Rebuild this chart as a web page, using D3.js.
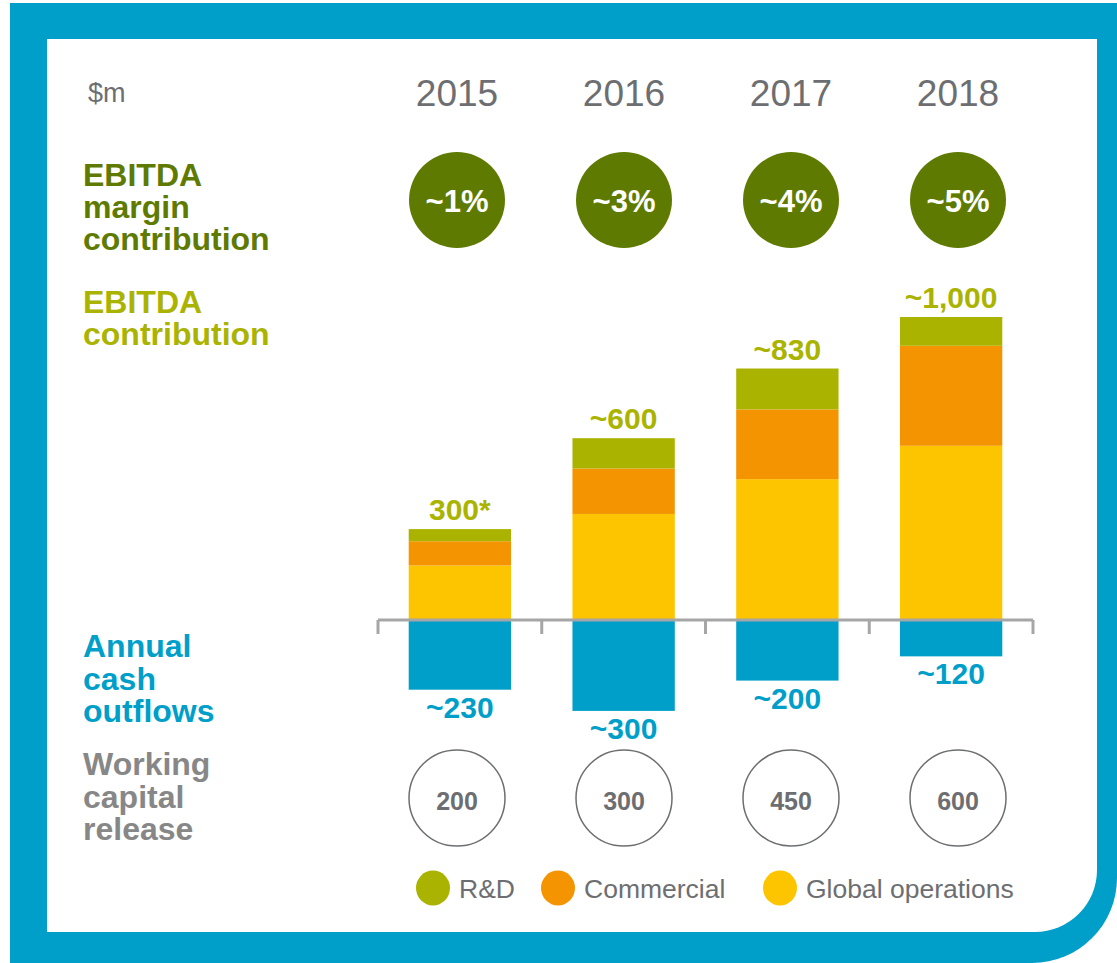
<!DOCTYPE html>
<html>
<head>
<meta charset="utf-8">
<script src="https://cdn.jsdelivr.net/npm/d3@7"></script>
<style>
  body { margin: 0; background: #fff; }
  svg text { font-family: "Liberation Sans", Arial, sans-serif; }
</style>
</head>
<body>
<div id="chart"></div>
<script>
var width = 1117, height = 963;

// data
var years = ["2015", "2016", "2017", "2018"];
var globalOps = [180, 350, 465, 575];
var commercial = [80, 150, 230, 330];
var rnd = [40, 100, 135, 95];
var ebitdaLabels = ["300*", "~600", "~830", "~1,000"];
var margins = ["~1%", "~3%", "~4%", "~5%"];
var cashOutflows = [230, 300, 200, 120];
var workingCapital = [200, 300, 450, 600];
var seriesNames = ["R&D", "Commercial", "Global operations"];

var colors = {
  frame: "#009fc9",
  darkGreen: "#5e7a00",
  lime: "#aab400",
  orange: "#f39400",
  yellow: "#fdc500",
  grey: "#6d6e71",
  lightGrey: "#878787"
};
var seriesColors = [colors.lime, colors.orange, colors.yellow];

var svg = d3.select("#chart").append("svg")
    .attr("width", width)
    .attr("height", height);

// frame: blue band with rounded bottom-right corner, white panel inside
function roundedBR(x0, y0, x1, y1, r) {
  return "M" + x0 + "," + y0 + "H" + x1 + "V" + (y1 - r) +
    "A" + r + "," + r + " 0 0 1 " + (x1 - r) + "," + y1 + "H" + x0 + "Z";
}
svg.append("path")
    .attr("d", roundedBR(10, 3, 1117, 963, 85))
    .attr("fill", colors.frame);
svg.append("path")
    .attr("d", roundedBR(47, 39, 1097, 932, 62))
    .attr("fill", "#fff");

// scales
var x = d3.scaleBand()
    .domain(years)
    .range([378, 1033])
    .paddingInner(0.375)
    .paddingOuter(0.1875);

var xc = d3.scalePoint()
    .domain(years)
    .range([457, 958]);

var y = d3.scaleLinear()
    .domain([0, 1000])
    .range([620, 317]);

var g = svg.append("g");

// unit + year headers
g.append("text")
    .attr("x", 88).attr("y", 102)
    .attr("fill", colors.grey)
    .style("font-size", "27px")
    .text("$m");

g.selectAll(".year")
    .data(years)
  .enter().append("text")
    .attr("class", "year")
    .attr("x", function(d) { return xc(d); })
    .attr("y", 106)
    .attr("text-anchor", "middle")
    .attr("fill", colors.grey)
    .style("font-size", "37px")
    .text(function(d) { return d; });

// row labels
function rowLabel(lines, y0, color, lh) {
  var t = g.append("text")
      .attr("x", 83).attr("y", y0)
      .attr("fill", color)
      .style("font-size", "32px")
      .style("font-weight", "bold");
  lines.forEach(function(l, i) {
    t.append("tspan").attr("x", 83).attr("y", y0 + i * lh).text(l);
  });
}
rowLabel(["EBITDA", "margin", "contribution"], 186, colors.darkGreen, 32);
rowLabel(["EBITDA", "contribution"], 313, colors.lime, 32);
rowLabel(["Annual", "cash", "outflows"], 657, colors.frame, 32.5);
rowLabel(["Working", "capital", "release"], 775, colors.lightGrey, 32.5);

// margin circles
var mg = g.selectAll(".margin")
    .data(years)
  .enter().append("g")
    .attr("class", "margin")
    .attr("transform", function(d) { return "translate(" + xc(d) + ",200)"; });
mg.append("circle").attr("r", 48).attr("fill", colors.darkGreen);
mg.append("text")
    .attr("y", 12)
    .attr("text-anchor", "middle")
    .attr("fill", "#fff")
    .style("font-size", "31px")
    .style("font-weight", "bold")
    .text(function(d, i) { return margins[i]; });

// stacked EBITDA bars
var table = years.map(function(yr, i) {
  return { year: yr, "Global operations": globalOps[i], "Commercial": commercial[i], "R&D": rnd[i] };
});
var stack = d3.stack().keys(["Global operations", "Commercial", "R&D"]);
var layers = stack(table);

g.selectAll(".layer")
    .data(layers)
  .enter().append("g")
    .attr("class", "layer")
    .attr("fill", function(d) { return seriesColors[seriesNames.indexOf(d.key)]; })
  .selectAll("rect")
    .data(function(d) { return d; })
  .enter().append("rect")
    .attr("x", function(d) { return x(d.data.year); })
    .attr("width", x.bandwidth())
    .attr("y", function(d) { return y(d[1]); })
    .attr("height", function(d) { return y(d[0]) - y(d[1]); });

var totals = years.map(function(yr, i) { return globalOps[i] + commercial[i] + rnd[i]; });
g.selectAll(".total")
    .data(years)
  .enter().append("text")
    .attr("class", "total")
    .attr("x", function(d) { return x(d) + x.bandwidth() / 2; })
    .attr("y", function(d, i) { return y(totals[i]) - 9; })
    .attr("text-anchor", "middle")
    .attr("fill", colors.lime)
    .style("font-size", "30px")
    .style("font-weight", "bold")
    .text(function(d, i) { return ebitdaLabels[i]; });

// cash outflow bars (below the axis)
g.selectAll(".cash")
    .data(years)
  .enter().append("rect")
    .attr("class", "cash")
    .attr("x", function(d) { return x(d); })
    .attr("width", x.bandwidth())
    .attr("y", y(0))
    .attr("height", function(d, i) { return y(0) - y(cashOutflows[i]); })
    .attr("fill", colors.frame);

g.selectAll(".cash-label")
    .data(years)
  .enter().append("text")
    .attr("class", "cash-label")
    .attr("x", function(d) { return x(d) + x.bandwidth() / 2; })
    .attr("y", function(d, i) { return 2 * y(0) - y(cashOutflows[i]) + 28; })
    .attr("text-anchor", "middle")
    .attr("fill", colors.frame)
    .style("font-size", "30px")
    .style("font-weight", "bold")
    .text(function(d, i) { return "~" + cashOutflows[i]; });

// axis line with ticks at band boundaries
var x0 = x.range()[0], step = x.step();
g.append("line")
    .attr("x1", x0).attr("x2", x.range()[1])
    .attr("y1", y(0)).attr("y2", y(0))
    .attr("stroke", "#a6a6a6").attr("stroke-width", 3);
g.selectAll(".tick")
    .data(d3.range(years.length + 1))
  .enter().append("line")
    .attr("class", "tick")
    .attr("x1", function(i) { return x0 + i * step; })
    .attr("x2", function(i) { return x0 + i * step; })
    .attr("y1", y(0)).attr("y2", y(0) + 14)
    .attr("stroke", "#a6a6a6").attr("stroke-width", 3);

// working capital circles
var wc = g.selectAll(".wc")
    .data(years)
  .enter().append("g")
    .attr("class", "wc")
    .attr("transform", function(d) { return "translate(" + xc(d) + ",798)"; });
wc.append("circle")
    .attr("r", 48)
    .attr("fill", "#fff")
    .attr("stroke", "#6d6e71")
    .attr("stroke-width", 1.5);
wc.append("text")
    .attr("y", 12)
    .attr("text-anchor", "middle")
    .attr("fill", colors.grey)
    .style("font-size", "25px")
    .style("font-weight", "bold")
    .text(function(d, i) { return workingCapital[i]; });

// legend
var legendX = [433, 558, 780];
var lg = g.selectAll(".legend")
    .data(seriesNames)
  .enter().append("g")
    .attr("class", "legend")
    .attr("transform", function(d, i) { return "translate(" + legendX[i] + ",888)"; });
lg.append("ellipse")
    .attr("rx", 17).attr("ry", 17.5)
    .attr("fill", function(d, i) { return seriesColors[i]; });
lg.append("text")
    .attr("x", 26).attr("y", 10)
    .attr("fill", colors.grey)
    .style("font-size", "26.5px")
    .text(function(d) { return d; });
</script>
</body>
</html>
